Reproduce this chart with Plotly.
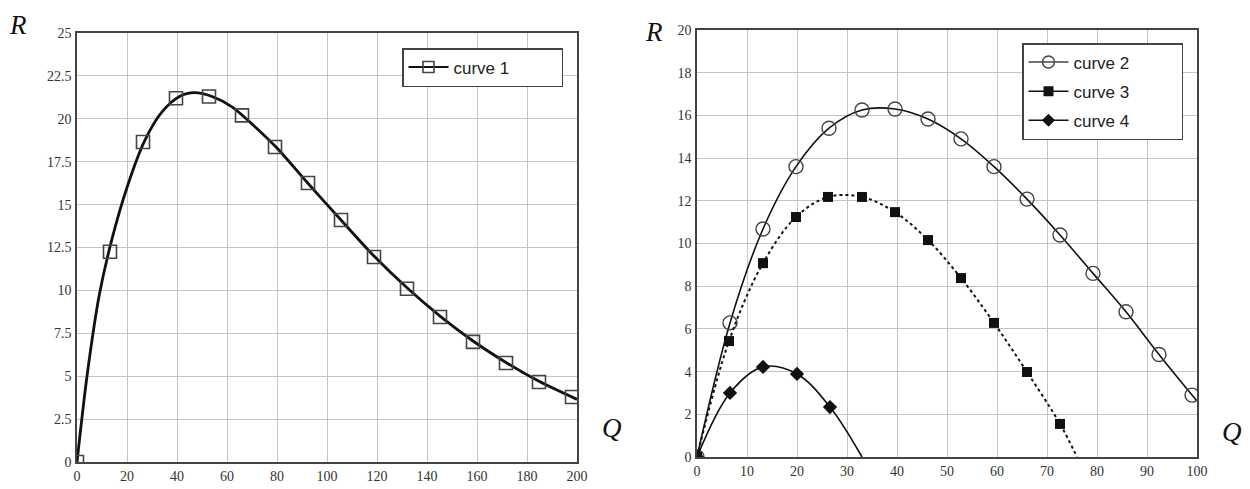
import plotly.graph_objects as go

# ---------------- data ----------------
# curve 1 (left panel) - measured points
c1_q = [0, 13.2, 26.4, 39.6, 52.8, 66.0, 79.2, 92.4, 105.6, 118.8, 132.0, 145.2, 158.4, 171.6, 184.8, 198.0]
c1_r = [0, 12.25, 18.65, 21.2, 21.3, 20.2, 18.36, 16.26, 14.1, 11.95, 10.1, 8.45, 7.0, 5.77, 4.66, 3.79]
# curve 1 fitted line
c1_line_q = [0, 4, 9, 14, 20, 27, 34, 41, 47, 54, 62, 70, 80, 92, 105.6, 118.8, 132, 145.2, 158.4, 171.6, 184.8, 200]
c1_line_r = [0, 5.0, 9.8, 13.0, 16.0, 18.7, 20.4, 21.3, 21.52, 21.3, 20.7, 19.7, 18.3, 16.3, 14.1, 12.0, 10.15, 8.5, 7.05, 5.8, 4.7, 3.65]

# curve 2 (right panel)
c2_q = [0, 6.6, 13.2, 19.8, 26.4, 33.0, 39.6, 46.2, 52.8, 59.4, 66.0, 72.6, 79.2, 85.8, 92.4, 99.0]
c2_r = [0, 6.28, 10.68, 13.6, 15.4, 16.25, 16.3, 15.83, 14.9, 13.6, 12.08, 10.4, 8.6, 6.8, 4.8, 2.9]
c2_line_q = c2_q + [100]
c2_line_r = c2_r + [2.62]

# curve 3 (right panel)
c3_q = [0, 6.4, 13.2, 19.8, 26.2, 33.0, 39.6, 46.2, 52.8, 59.4, 66.0, 72.6]
c3_r = [0, 5.43, 9.08, 11.24, 12.18, 12.18, 11.47, 10.16, 8.38, 6.28, 3.98, 1.55]
c3_line_q = c3_q + [76]
c3_line_r = c3_r + [0]

# curve 4 (right panel)
c4_q = [0, 6.6, 13.2, 20.0, 26.6]
c4_r = [0, 3.0, 4.22, 3.89, 2.34]
c4_line_q = c4_q + [33]
c4_line_r = c4_r + [0]

left_x_ticks = list(range(0, 201, 20))
left_y_ticks = [0, 2.5, 5, 7.5, 10, 12.5, 15, 17.5, 20, 22.5, 25]
left_y_labels = ["0", "2.5", "5", "7.5", "10", "12.5", "15", "17.5", "20", "22.5", "25"]
right_x_ticks = list(range(0, 101, 10))
right_y_ticks = list(range(0, 21, 2))

# page has an 8px body margin; the figure fills the rest of the 1250x489 window
OFF = 8
W, H = 1250 - OFF, 489 - OFF

fig = go.Figure()

BLACK = "#111111"
MK = "#444444"

# ---- left panel ----
fig.add_trace(go.Scatter(x=c1_line_q, y=c1_line_r, mode="lines", line=dict(color=BLACK, width=2.8, shape="spline", smoothing=0.8),
                         showlegend=False, xaxis="x", yaxis="y"))
fig.add_trace(go.Scatter(x=c1_q, y=c1_r, mode="markers",
                         marker=dict(symbol="square-open", size=13, color=MK, line=dict(width=1.6, color=MK)),
                         showlegend=False, xaxis="x", yaxis="y"))
fig.add_trace(go.Scatter(x=[None], y=[None], mode="lines+markers", name="curve 1" + "\u00a0" * 10,
                         line=dict(color=BLACK, width=2),
                         marker=dict(symbol="square-open", size=11, color=MK, line=dict(width=1.6, color=MK)),
                         legend="legend", xaxis="x", yaxis="y"))

# ---- right panel ----
fig.add_trace(go.Scatter(x=c2_line_q, y=c2_line_r, mode="lines", line=dict(color=BLACK, width=1.6, shape="spline"),
                         showlegend=False, xaxis="x2", yaxis="y2"))
fig.add_trace(go.Scatter(x=c2_q, y=c2_r, mode="markers",
                         marker=dict(symbol="circle-open", size=14, color=MK, line=dict(width=1.4, color=MK)),
                         showlegend=False, xaxis="x2", yaxis="y2"))
fig.add_trace(go.Scatter(x=c3_line_q, y=c3_line_r, mode="lines", line=dict(color=BLACK, width=2, dash="dot", shape="spline"),
                         showlegend=False, xaxis="x2", yaxis="y2"))
fig.add_trace(go.Scatter(x=c3_q, y=c3_r, mode="markers",
                         marker=dict(symbol="square", size=10, color=BLACK),
                         showlegend=False, xaxis="x2", yaxis="y2"))
fig.add_trace(go.Scatter(x=c4_line_q, y=c4_line_r, mode="lines", line=dict(color=BLACK, width=1.6, shape="spline"),
                         showlegend=False, xaxis="x2", yaxis="y2"))
fig.add_trace(go.Scatter(x=c4_q, y=c4_r, mode="markers",
                         marker=dict(symbol="diamond", size=11, color=BLACK),
                         showlegend=False, xaxis="x2", yaxis="y2"))

pad = "\u00a0" * 10
fig.add_trace(go.Scatter(x=[None], y=[None], mode="lines+markers", name="curve 2" + pad, legendgroup="g2",
                         line=dict(color=MK, width=1.5),
                         marker=dict(symbol="circle-open", size=12, color=MK, line=dict(width=1.4, color=MK)),
                         legend="legend2", xaxis="x2", yaxis="y2"))
fig.add_trace(go.Scatter(x=[None], y=[None], mode="lines+markers", name="curve 3" + pad, legendgroup="g3",
                         line=dict(color=BLACK, width=1.5),
                         marker=dict(symbol="square", size=10, color=BLACK),
                         legend="legend2", xaxis="x2", yaxis="y2"))
fig.add_trace(go.Scatter(x=[None], y=[None], mode="lines+markers", name="curve 4" + pad, legendgroup="g4",
                         line=dict(color=BLACK, width=1.5),
                         marker=dict(symbol="diamond", size=10, color=BLACK),
                         legend="legend2", xaxis="x2", yaxis="y2"))

tickfont = dict(family="Liberation Serif", size=14, color="#333333")
grid = dict(showgrid=True, gridcolor="#c4c4c4", gridwidth=1.2, zeroline=False,
            showline=True, mirror=True, linecolor="#444444", linewidth=1.6,
            ticks="", tickfont=tickfont, fixedrange=True, automargin=False)

def px_x(p):
    return (p - OFF) / W

def px_y(p):
    return 1 - (p - OFF) / H

fig.update_layout(
    width=W, height=H,
    margin=dict(l=0, r=0, t=0, b=0, pad=0, autoexpand=False),
    paper_bgcolor="white", plot_bgcolor="white",
    xaxis=dict(domain=[px_x(77), px_x(577)], range=[0, 200], tickvals=left_x_ticks, anchor="y", **grid),
    yaxis=dict(domain=[px_y(462), px_y(33)], range=[0, 25], tickvals=left_y_ticks, ticktext=left_y_labels,
               anchor="x", ticklabelstandoff=1, **grid),
    xaxis2=dict(domain=[px_x(697), px_x(1197)], range=[0, 100], tickvals=right_x_ticks, anchor="y2", **grid),
    yaxis2=dict(domain=[px_y(457), px_y(30)], range=[0, 20], tickvals=right_y_ticks, anchor="x2",
                ticklabelstandoff=1, **grid),
    legend=dict(x=px_x(402), y=px_y(48), xanchor="left", yanchor="top",
                bgcolor="white", bordercolor="#444444", borderwidth=1.5,
                font=dict(family="Liberation Sans", size=17, color="#222222"),
                itemwidth=40, tracegroupgap=0),
    legend2=dict(x=px_x(1022), y=px_y(43), xanchor="left", yanchor="top",
                 bgcolor="white", bordercolor="#444444", borderwidth=1.5,
                 font=dict(family="Liberation Sans", size=17, color="#222222"),
                 itemwidth=40, tracegroupgap=4),
    showlegend=True,
)

labfont = dict(family="Liberation Serif", size=27, color="#111111")
for txt, x, y in [("<i>R</i>", 18, 25), ("<i>Q</i>", 612, 428), ("<i>R</i>", 654, 32), ("<i>Q</i>", 1232, 432)]:
    fig.add_annotation(text=txt, xref="paper", yref="paper", x=px_x(x), y=px_y(y),
                       xanchor="center", yanchor="middle", showarrow=False, font=labfont)

fig.write_html("out.html")
